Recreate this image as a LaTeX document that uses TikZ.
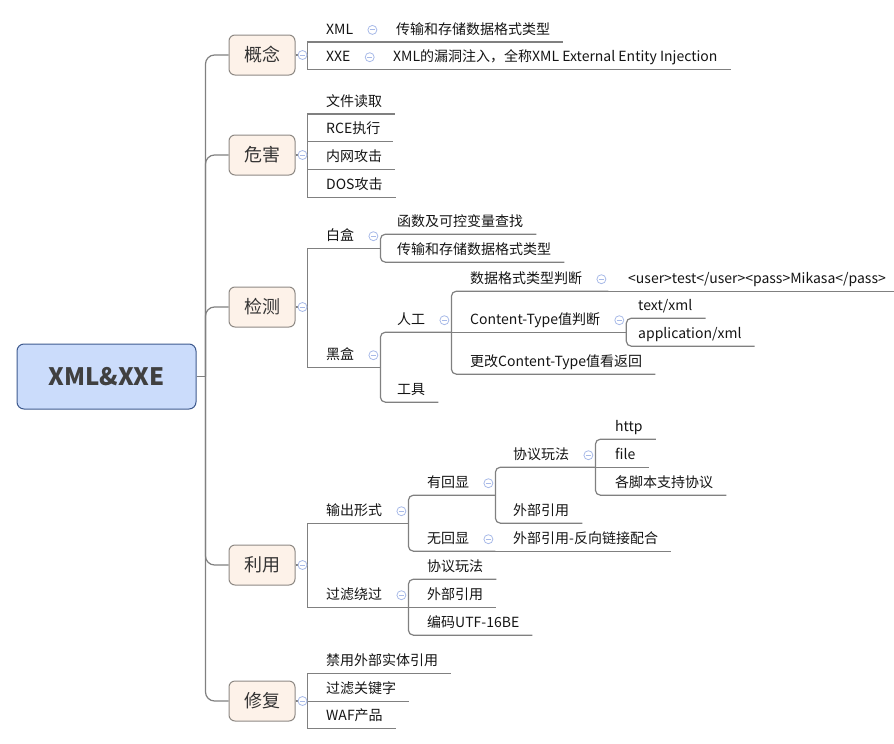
\documentclass[tikz,border=0pt]{standalone}
\usepackage{fontspec}
\setmainfont{Noto Sans CJK SC}
\usepackage{tikz}
\usepackage{xcolor}
\definecolor{rootfill}{RGB}{203,220,251}
\definecolor{rootline}{RGB}{62,90,142}
\definecolor{topicfill}{RGB}{253,242,233}
\definecolor{topicline}{RGB}{142,137,132}
\definecolor{branchline}{RGB}{128,128,128}
\definecolor{foldline}{RGB}{168,186,232}
\definecolor{roottext}{RGB}{64,64,64}
\definecolor{topictext}{RGB}{51,51,51}
\definecolor{leaftext}{RGB}{20,20,20}
\tikzset{
    root-box/.style = {draw=rootline, fill=rootfill, line width=1pt, rounded corners=7pt, minimum width=179pt, minimum height=65pt, text=roottext, font=\fontsize{24}{28}\selectfont\bfseries},
    topic-box/.style = {draw=topicline, fill=topicfill, line width=1pt, rounded corners=6pt, minimum width=66pt, minimum height=40pt, text=topictext, font=\fontsize{18}{20}\selectfont},
    leaf/.style = {anchor=base west, inner xsep=0pt, inner ysep=0pt, text height=10pt, text depth=7.5pt, text=leaftext, font=\fontsize{14}{16}\selectfont},
    trunk-line/.style = {draw=branchline, line width=1.2pt, rounded corners=9pt},
    link/.style = {draw=branchline, line width=1.2pt},
    soft-link/.style = {link, rounded corners=5pt},
    fold/.style = {circle, draw=foldline, fill=white, line width=0.8pt, minimum size=9pt, inner sep=0pt,
        path picture={\draw[foldline, line width=0.9pt] ([xshift=-2.5pt]path picture bounding box.center) -- ([xshift=2.5pt]path picture bounding box.center);}},
}

\begin{document}
\begin{tikzpicture}[x=1pt, y=-1pt]
\useasboundingbox (0,0) rectangle (894,744);

% root and main topics
\node[root-box] (root) at (106.5,376.5) {XML\&XXE};
\node[topic-box] (concept) at (262,55) {概念};
\node[topic-box] (harm) at (262,155) {危害};
\node[topic-box] (detect) at (262,307) {检测};
\node[topic-box] (use) at (262,565) {利用};
\node[topic-box] (fix) at (262,701) {修复};

% 概念
\node[leaf] (xml) at (326,34.2) {XML};
\node[leaf] (xmldef) at (396,34.2) {传输和存储数据格式类型};
\node[leaf] (xxe) at (326,61.5) {XXE};
\node[leaf] (xxedef) at (393,61.5) {XML的漏洞注入，全称XML External Entity Injection};

% 危害
\node[leaf] (read) at (326,106.2) {文件读取};
\node[leaf] (rce) at (326,133.5) {RCE执行};
\node[leaf] (intra) at (326,161.5) {内网攻击};
\node[leaf] (dos) at (326,189.5) {DOS攻击};

% 检测
\node[leaf] (white) at (326,240.5) {白盒};
\node[leaf] (func) at (397,226.5) {函数及可控变量查找};
\node[leaf] (store) at (397,254.5) {传输和存储数据格式类型};
\node[leaf] (black) at (326,359.5) {黑盒};
\node[leaf] (manual) at (397,324.5) {人工};
\node[leaf] (tool) at (397,394.5) {工具};
\node[leaf] (fmt) at (470,283.5) {数据格式类型判断};
\node[leaf] (sample) at (628,283.5) {<user>test</user><pass>Mikasa</pass>};
\node[leaf] (ctype) at (470,324.5) {Content-Type值判断};
\node[leaf] (textxml) at (638,310.5) {text/xml};
\node[leaf] (appxml) at (638,338.5) {application/xml};
\node[leaf] (change) at (470,366.5) {更改Content-Type值看返回};

% 利用
\node[leaf] (output) at (326,515.5) {输出形式};
\node[leaf] (echo) at (427,487.5) {有回显};
\node[leaf] (proto) at (513,459.5) {协议玩法};
\node[leaf] (http) at (615,431.5) {http};
\node[leaf] (file) at (615,459.5) {file};
\node[leaf] (scripts) at (615,487.5) {各脚本支持协议};
\node[leaf] (extref) at (513,515.5) {外部引用};
\node[leaf] (noecho) at (427,543.5) {无回显};
\node[leaf] (oob) at (513,543.5) {外部引用-反向链接配合};
\node[leaf] (bypass) at (326,599.5) {过滤绕过};
\node[leaf] (bproto) at (427,571.5) {协议玩法};
\node[leaf] (bext) at (427,599.5) {外部引用};
\node[leaf] (bcode) at (427,627.5) {编码UTF-16BE};

% 修复
\node[leaf] (ban) at (326,665.5) {禁用外部实体引用};
\node[leaf] (kw) at (326,693.5) {过滤关键字};
\node[leaf] (waf) at (326,720.5) {WAF产品};

% bracket and line-end points
\coordinate (trunk) at ([xshift=9pt]root.east);
\foreach \t in {concept,harm,detect,use,fix}
    \coordinate (b-\t) at ([xshift=12pt]\t.east);
\foreach \n in {xml,xxe,white,black,manual,fmt,ctype,output,bypass,echo,noecho,proto} {
    \coordinate (b-\n) at ([xshift=26pt]\n.south east);
    \coordinate (e-\n) at (b-\n);
}
\foreach \n in {xmldef,xxedef,read,rce,intra,dos,func,store,tool,sample,textxml,appxml,change,http,file,scripts,extref,oob,bproto,bext,bcode,ban,kw,waf}
    \coordinate (e-\n) at ([xshift=13pt]\n.south east);

% connectors
\draw[link] (root.east) -- (trunk);
\foreach \t in {concept,harm,detect,use,fix} {
    \draw[trunk-line] (trunk) |- (\t.west);
    \draw[link] (\t.east) -- (b-\t);
}
\foreach \p/\c in {concept/xml,concept/xxe,harm/read,harm/rce,harm/intra,harm/dos,detect/white,detect/black,use/output,use/bypass,fix/ban,fix/kw,fix/waf}
    \draw[link] (b-\p) |- (e-\c);
\foreach \p/\c in {white/func,white/store,black/manual,black/tool,manual/fmt,manual/change,ctype/textxml,ctype/appxml,output/echo,output/noecho,echo/proto,echo/extref,proto/http,proto/scripts,bypass/bproto,bypass/bcode}
    \draw[soft-link] (b-\p) |- (e-\c);
\foreach \p/\c in {xml/xmldef,xxe/xxedef,manual/ctype,fmt/sample,proto/file,noecho/oob,bypass/bext}
    \draw[link] (b-\p) -- (e-\c);

% fold markers
\foreach \t in {concept,harm,detect,use,fix}
    \node[fold] (f-\t) at ([xshift=7pt]\t.east) {};
\foreach \n in {xml,xxe,white,black,manual,fmt,ctype,output,bypass,echo,noecho,proto}
    \node[fold] (f-\n) at ([shift={(-7,-12)}]b-\n) {};
\end{tikzpicture}
\end{document}
